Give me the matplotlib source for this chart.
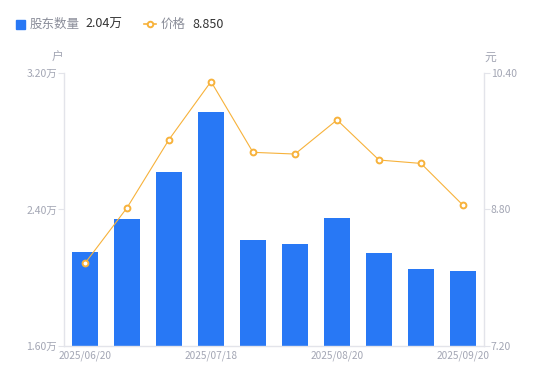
import numpy as np
import matplotlib.pyplot as plt
from matplotlib.lines import Line2D
from matplotlib.patches import Patch

plt.rcParams['font.family'] = ['Noto Sans CJK SC', 'DejaVu Sans']

dates = ["2025/06/20", "2025/06/30", "2025/07/10", "2025/07/18", "2025/07/31",
         "2025/08/10", "2025/08/20", "2025/08/31", "2025/09/10", "2025/09/20"]
holders = [2.15, 2.345, 2.62, 2.97, 2.22, 2.20, 2.35, 2.145, 2.05, 2.04]  # 万户
price = [8.17, 8.82, 9.62, 10.30, 9.47, 9.45, 9.85, 9.38, 9.34, 8.85]

BAR_C = "#2878f5"
LINE_C = "#f7b23b"
TICK_C = "#a3a6b4"
SPINE_C = "#e3e4ea"

fig = plt.figure(figsize=(5.5, 3.81), dpi=100)
ax = fig.add_axes([0.1164, 0.0919, 0.7636, 0.7165])
ax2 = ax.twinx()

x = np.arange(len(dates))
ax.bar(x, holders, width=0.6, color=BAR_C, zorder=2)
ax2.plot(x, price, color=LINE_C, lw=0.8, marker="o", ms=4.2, mfc="white",
         mec=LINE_C, mew=1.4, zorder=3)

ax.set_xlim(-0.5, len(dates) - 0.5)
ax.set_ylim(1.6, 3.2)
ax2.set_ylim(7.2, 10.4)
ax.set_yticks([1.6, 2.4, 3.2])
ax.set_yticklabels([f"{v:.2f}万" for v in [1.6, 2.4, 3.2]])
ax2.set_yticks([7.2, 8.8, 10.4])
ax2.set_yticklabels([f"{v:.2f}" for v in [7.2, 8.8, 10.4]])
ax.set_xticks(x[::3])
ax.set_xticklabels(dates[::3])

for a in (ax, ax2):
    for s in a.spines.values():
        s.set_visible(False)
ax.spines['left'].set_visible(True)
ax.spines['bottom'].set_visible(True)
ax2.spines['right'].set_visible(True)
for s in (ax.spines['left'], ax.spines['bottom'], ax2.spines['right']):
    s.set_color(SPINE_C)
    s.set_linewidth(1.0)

ax.tick_params(axis='y', colors=SPINE_C, labelcolor=TICK_C, labelsize=7.5,
               length=4, width=0.8, pad=1)
ax2.tick_params(axis='y', colors=SPINE_C, labelcolor=TICK_C, labelsize=7.5,
                length=4, width=0.8, pad=1)
ax.tick_params(axis='x', length=0, labelcolor=TICK_C, labelsize=7.3, pad=3)

fig.text(58 / 550, 1 - 57 / 381, "户", color=TICK_C, fontsize=8.5,
         ha='center', va='center')
fig.text(490 / 550, 1 - 57 / 381, "元", color=TICK_C, fontsize=8.5,
         ha='center', va='center')

# legend drawn as text row at the top
ly = 1 - 24 / 381
fig.patches.append(Patch(transform=fig.transFigure, visible=False))
ax_leg = fig.add_axes([0, 0, 1, 1], facecolor='none')
ax_leg.set_xlim(0, 550)
ax_leg.set_ylim(381, 0)
ax_leg.axis('off')
ax_leg.add_patch(plt.Rectangle((16, 19.5), 9, 9, color=BAR_C))
ax_leg.text(30, 24, "股东数量", color="#8a8d99", fontsize=9, va='center')
ax_leg.text(85, 24, f"{holders[-1]:.2f}万", color="#333333", fontsize=9, va='center')
ax_leg.add_line(Line2D([144, 156], [24, 24], color=LINE_C, lw=1.2))
ax_leg.plot([150], [24], marker='o', ms=4, mfc='white', mec=LINE_C, mew=1.4)
ax_leg.text(161, 24, "价格", color="#8a8d99", fontsize=9, va='center')
ax_leg.text(192, 24, f"{price[-1]:.3f}", color="#333333", fontsize=9, va='center')

fig.savefig("out.png", dpi=100)
